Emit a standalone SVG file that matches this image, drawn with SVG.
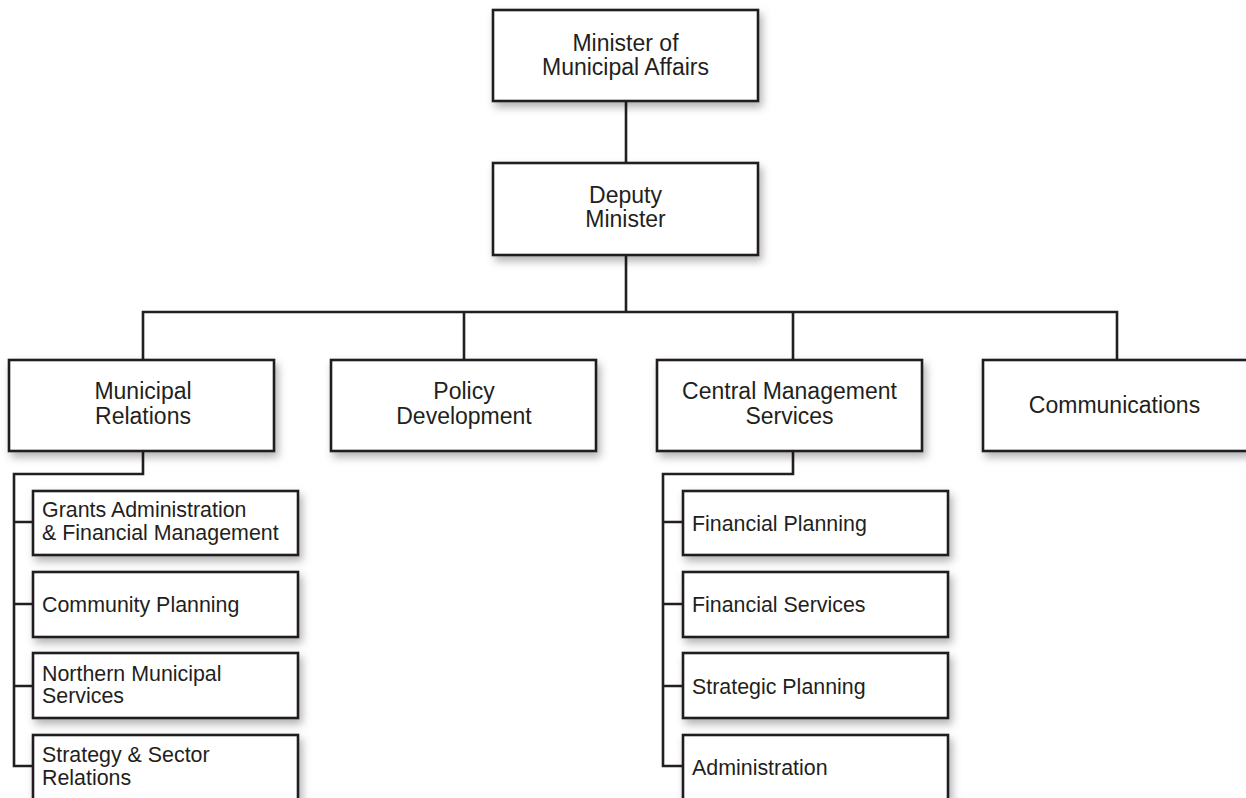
<svg xmlns="http://www.w3.org/2000/svg" width="1246" height="798" viewBox="0 0 1246 798">
<defs>
<filter id="sh" x="-10%" y="-20%" width="130%" height="160%">
<feDropShadow dx="3" dy="5" stdDeviation="4" flood-color="#000" flood-opacity="0.3"/>
</filter>
</defs>
<style>
.box{fill:#fff;stroke:#231f20;stroke-width:2.6;filter:url(#sh)}
.t{font-family:"Liberation Sans",Arial,Helvetica,sans-serif;font-size:23px;fill:#231f20;text-anchor:middle}
.s{font-family:"Liberation Sans",Arial,Helvetica,sans-serif;font-size:21.4px;fill:#231f20}
.ln{fill:none;stroke:#231f20;stroke-width:2.6}
</style>
<rect width="1246" height="798" fill="#fff"/>
<g id="connectors">
<path class="ln" d="M626 101V163"/>
<path class="ln" d="M626 255V312"/>
<path class="ln" d="M143 360V312H1117V360"/>
<path class="ln" d="M464 312V360"/>
<path class="ln" d="M793 312V360"/>
<path class="ln" d="M143 451V474H14V766H33"/>
<path class="ln" d="M14 522H33M14 604H33M14 686H33"/>
<path class="ln" d="M793 451V474H663V766H683"/>
<path class="ln" d="M663 522H683M663 604H683M663 686H683"/>
</g>
<g id="minister">
<rect class="box" x="493" y="10" width="265" height="91"/>
<text class="t" x="625.5" y="51">Minister of</text>
<text class="t" x="625.5" y="75">Municipal Affairs</text>
</g>
<g id="deputy">
<rect class="box" x="493" y="163" width="265" height="92"/>
<text class="t" x="625.5" y="203">Deputy</text>
<text class="t" x="625.5" y="227">Minister</text>
</g>
<g id="municipal-relations">
<rect class="box" x="9" y="360" width="265" height="91"/>
<text class="t" x="143" y="399">Municipal</text>
<text class="t" x="143" y="424">Relations</text>
</g>
<g id="policy-development">
<rect class="box" x="331" y="360" width="265" height="91"/>
<text class="t" x="464" y="399">Policy</text>
<text class="t" x="464" y="424">Development</text>
</g>
<g id="central-management">
<rect class="box" x="657" y="360" width="265" height="91"/>
<text class="t" x="789.5" y="399">Central Management</text>
<text class="t" x="789.5" y="424">Services</text>
</g>
<g id="communications">
<rect class="box" x="983" y="360" width="266" height="91"/>
<text class="t" x="1114.5" y="413">Communications</text>
</g>
<g id="grants">
<rect class="box" x="33" y="491" width="265" height="64"/>
<text class="s" x="42" y="517">Grants Administration</text>
<text class="s" x="42" y="540">&amp; Financial Management</text>
</g>
<g id="community-planning">
<rect class="box" x="33" y="572" width="265" height="65"/>
<text class="s" x="42" y="612">Community Planning</text>
</g>
<g id="northern">
<rect class="box" x="33" y="653" width="265" height="65"/>
<text class="s" x="42" y="681">Northern Municipal</text>
<text class="s" x="42" y="703">Services</text>
</g>
<g id="strategy">
<rect class="box" x="33" y="735" width="265" height="66"/>
<text class="s" x="42" y="762">Strategy &amp; Sector</text>
<text class="s" x="42" y="785">Relations</text>
</g>
<g id="financial-planning">
<rect class="box" x="683" y="491" width="265" height="64"/>
<text class="s" x="692" y="531">Financial Planning</text>
</g>
<g id="financial-services">
<rect class="box" x="683" y="572" width="265" height="65"/>
<text class="s" x="692" y="612">Financial Services</text>
</g>
<g id="strategic-planning">
<rect class="box" x="683" y="653" width="265" height="65"/>
<text class="s" x="692" y="694">Strategic Planning</text>
</g>
<g id="administration">
<rect class="box" x="683" y="735" width="265" height="66"/>
<text class="s" x="692" y="775">Administration</text>
</g>
</svg>
